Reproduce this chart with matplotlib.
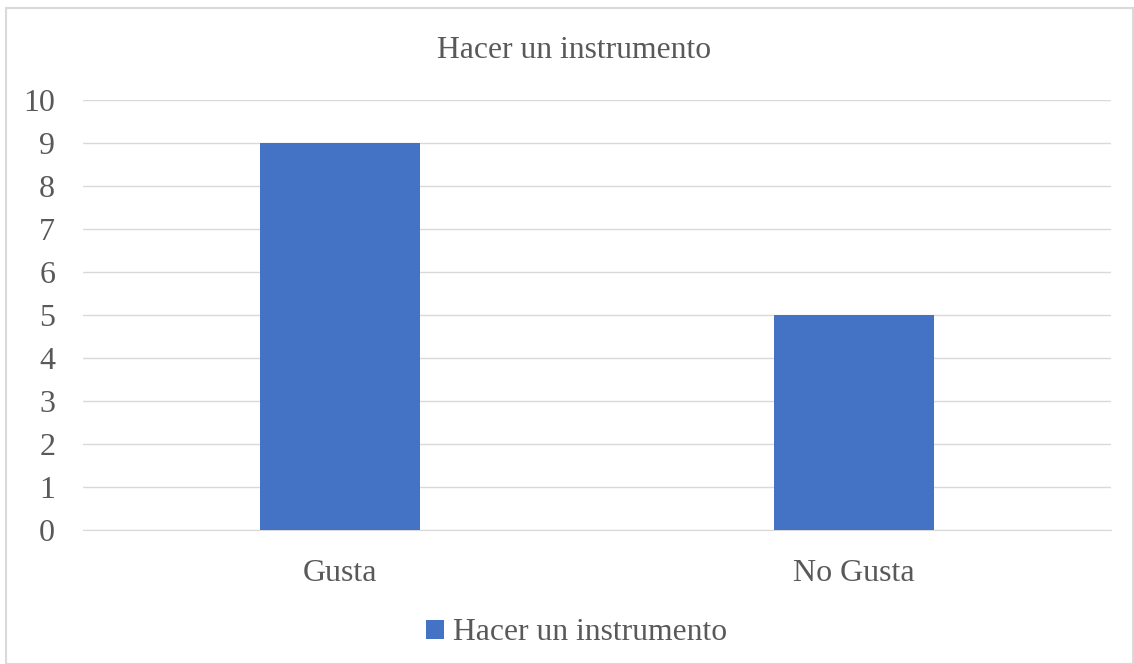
import matplotlib
matplotlib.use("Agg")
import matplotlib.pyplot as plt
from matplotlib.patches import Rectangle, Patch

categories = ["Gusta", "No Gusta"]
values = [9, 5]
series_name = "Hacer un instrumento"
title = "Hacer un instrumento"
yticks = list(range(0, 11))

plt.rcParams['font.family'] = ['Liberation Serif', 'DejaVu Serif']
text_color = "#595959"
bar_color = "#4472C4"
grid_color = "#d9d9d9"

fig = plt.figure(figsize=(11.34, 6.64), dpi=100)
fig.patches.append(Rectangle((6/1134, 0), 1 - 7/1134, 1 - 8/664, transform=fig.transFigure,
                             fill=False, edgecolor=grid_color, linewidth=1.5))
ax = fig.add_axes([83/1134, 1 - 530/664, 1028/1134, 430/664])

x = list(range(len(categories)))
ax.bar(x, values, width=0.31, color=bar_color, zorder=3)
ax.set_xlim(-0.5, len(categories) - 0.5)
ax.set_ylim(0, 10)
ax.set_yticks(yticks)
ax.set_xticks(x)
ax.set_xticklabels(categories)
ax.yaxis.grid(True, color=grid_color, linewidth=1, zorder=0)
for s in ["top", "right", "left"]:
    ax.spines[s].set_visible(False)
ax.spines["bottom"].set_color(grid_color)
ax.tick_params(axis="both", length=0, labelsize=23, colors=text_color)
ax.tick_params(axis="y", pad=20)
ax.tick_params(axis="x", pad=21)

fig.text(574.5/1134, 1 - 50/664, title, ha="center", va="center", fontsize=22.8, color=text_color)
handles = [Patch(facecolor=bar_color, label=series_name)]
fig.legend(handles=handles, loc="center", bbox_to_anchor=(577/1134, 1 - 633/664), frameon=False,
           fontsize=22.8, labelcolor=text_color, handlelength=0.55, handleheight=0.55, handletextpad=0.3)

fig.savefig("out.png", dpi=100)
